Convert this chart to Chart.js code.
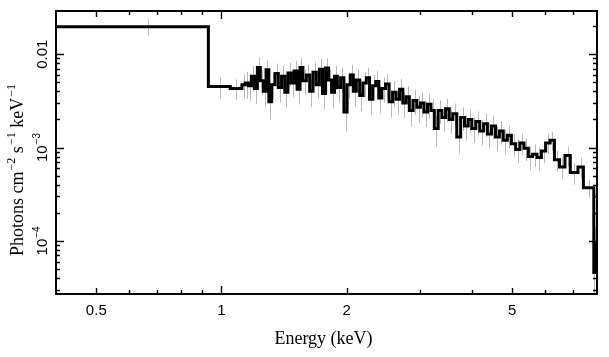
<!DOCTYPE html>
<html><head><meta charset="utf-8">
<script src="https://cdn.jsdelivr.net/npm/chart.js@4"></script>
<style>html,body{margin:0;padding:0;background:#fff}#wrap{width:609px;height:357px;position:relative}</style>
</head><body><div id="wrap"><canvas id="c" width="609" height="357"></canvas></div>
<script>
// ---- data ----
const binEdges = [0.40, 0.93, 1.05, 1.12, 1.14, 1.16, 1.18, 1.20, 1.22, 1.24, 1.26, 1.28, 1.30, 1.32, 1.345, 1.37, 1.395, 1.42, 1.445, 1.47, 1.495, 1.52, 1.545, 1.57, 1.60, 1.63, 1.66, 1.69, 1.72, 1.75, 1.78, 1.81, 1.84, 1.87, 1.90, 1.935, 1.97, 2.005, 2.04, 2.075, 2.11, 2.15, 2.19, 2.23, 2.27, 2.31, 2.35, 2.39, 2.43, 2.48, 2.53, 2.58, 2.63, 2.68, 2.73, 2.78, 2.83, 2.89, 2.95, 3.01, 3.07, 3.13, 3.19, 3.25, 3.32, 3.39, 3.46, 3.53, 3.60, 3.68, 3.76, 3.84, 3.92, 4.00, 4.09, 4.18, 4.27, 4.36, 4.46, 4.56, 4.66, 4.76, 4.87, 4.98, 5.10, 5.22, 5.34, 5.47, 5.60, 5.74, 5.88, 6.02, 6.17, 6.32, 6.50, 6.70, 6.90, 7.20, 7.42, 7.86, 7.89, 7.92, 7.95, 7.98];
const binValues = [0.0197, 0.0045, 0.0043, 0.0047,
  0.0049, 0.0046, 0.0058, 0.0043, 0.0072, 0.0052, 0.0040, 0.0068, 0.0031,
  0.0047, 0.0062, 0.0044, 0.0058, 0.0039, 0.0063, 0.0049, 0.0066, 0.0042,
  0.0072, 0.0052, 0.0060, 0.0040, 0.0064, 0.0047, 0.0069, 0.0038,
  0.0071, 0.0053, 0.0039, 0.0058, 0.0044, 0.0056,
  0.0024, 0.0047, 0.0060, 0.0040, 0.0053, 0.0036, 0.0049, 0.0056, 0.0033, 0.0046, 0.0051, 0.0034,
  0.0043, 0.0048, 0.0031, 0.0039, 0.0033, 0.0042, 0.0030, 0.0035, 0.0025, 0.0032, 0.0027, 0.0030,
  0.0024, 0.0029, 0.0025, 0.0016, 0.0025, 0.0021, 0.0026, 0.0020, 0.0023, 0.0013,
  0.0021, 0.0017, 0.0020, 0.0016, 0.0019, 0.0015, 0.0018, 0.0014, 0.0017, 0.0013, 0.0015, 0.0012, 0.00135,
  0.00110, 0.00095, 0.00112, 0.00098, 0.00080, 0.00085, 0.00078, 0.00092, 0.00112, 0.00120,
  0.00074, 0.00062, 0.00082, 0.00054, 0.00062, 0.00037,
  0.000046, 0.000095, 0.00008, 0.00006];
const binRelErr = [0.2, 0.25, 0.25, 0.3,
  0.32, 0.32, 0.3, 0.32, 0.28, 0.3, 0.33, 0.28, 0.36,
  0.3, 0.28, 0.31, 0.29, 0.32, 0.28, 0.3, 0.28, 0.31,
  0.27, 0.3, 0.29, 0.32, 0.28, 0.3, 0.28, 0.33,
  0.27, 0.29, 0.32, 0.29, 0.31, 0.29,
  0.38, 0.3, 0.28, 0.31, 0.29, 0.32, 0.3, 0.28, 0.32, 0.3, 0.29, 0.32,
  0.3, 0.29, 0.32, 0.3, 0.31, 0.29, 0.31, 0.3, 0.33, 0.3, 0.31, 0.3,
  0.31, 0.3, 0.31, 0.36, 0.29, 0.3, 0.28, 0.3, 0.29, 0.34,
  0.28, 0.3, 0.28, 0.3, 0.28, 0.3, 0.28, 0.3, 0.28, 0.3, 0.28, 0.3, 0.27,
  0.27, 0.28, 0.26, 0.27, 0.28, 0.27, 0.28, 0.26, 0.24, 0.23,
  0.25, 0.26, 0.23, 0.26, 0.24, 0.22,
  0.6, 0.5, 0.5, 0.6];
const xMajorTicks = [0.5, 1, 2, 5];
const xTickLabels = ['0.5', '1', '2', '5'];
const xMinorTicks = [0.6, 0.7, 0.8, 0.9, 3, 4, 6, 7];
const yDecadeTicks = [1e-2, 1e-3, 1e-4];
const yTickBase = ['0.01', '10', '10'];
const yTickExp = ['', '\u22123', '\u22124'];
const yMinorTicks = [3e-5, 4e-5, 5e-5, 6e-5, 7e-5, 8e-5, 9e-5, 2e-4, 3e-4, 4e-4, 5e-4, 6e-4, 7e-4, 8e-4, 9e-4, 2e-3, 3e-3, 4e-3, 5e-3, 6e-3, 7e-3, 8e-3, 9e-3, 2e-2, 3e-2];
const xTitle = 'Energy (keV)';
const yTitleParts = [['Photons cm', '\u22122'], [' s', '\u22121'], [' keV', '\u22121']];

// step points built from the bins
const stepPoints = binValues.map((v, i) => ({x: binEdges[i], y: v}));
stepPoints.push({x: binEdges[binEdges.length - 1], y: binValues[binValues.length - 1]});

const SANS = '"Liberation Sans", Arial, sans-serif';
const SERIF = '"Liberation Serif", "Times New Roman", serif';

const decor = {
  id: 'decor',
  beforeDatasetsDraw(chart) {
    const {ctx, chartArea: a, scales: {x, y}} = chart;
    ctx.save();
    ctx.beginPath(); ctx.rect(a.left, a.top, a.right - a.left, a.bottom - a.top); ctx.clip();
    ctx.strokeStyle = '#b8b8b8'; ctx.lineWidth = 1;
    for (let i = 0; i < binValues.length; i++) {
      const c = (binEdges[i] + binEdges[i + 1]) / 2;
      const v = binValues[i], e = binRelErr[i] * v;
      const px = Math.round(x.getPixelForValue(c)) + 0.5;
      const lo = Math.max(v - e, y.min);
      ctx.beginPath();
      ctx.moveTo(px, y.getPixelForValue(v + e));
      ctx.lineTo(px, y.getPixelForValue(lo));
      ctx.stroke();
    }
    ctx.restore();
  },
  afterDraw(chart) {
    const {ctx, chartArea: a, scales: {x, y}} = chart;
    ctx.save();
    ctx.strokeStyle = '#000'; ctx.lineWidth = 2;
    ctx.strokeRect(a.left, a.top, a.right - a.left, a.bottom - a.top);
    ctx.lineWidth = 1.4;
    const tx = (v, len) => {
      const p = Math.round(x.getPixelForValue(v)) + 0.5;
      ctx.beginPath();
      ctx.moveTo(p, a.bottom); ctx.lineTo(p, a.bottom - len);
      ctx.moveTo(p, a.top); ctx.lineTo(p, a.top + len);
      ctx.stroke();
    };
    xMajorTicks.forEach(v => tx(v, v === 1 ? 8 : 6));
    xMinorTicks.forEach(v => tx(v, 4));
    const ty = (v, len) => {
      if (v < y.min || v > y.max) return;
      const p = Math.round(y.getPixelForValue(v)) + 0.5;
      ctx.beginPath();
      ctx.moveTo(a.left, p); ctx.lineTo(a.left + len, p);
      ctx.moveTo(a.right, p); ctx.lineTo(a.right - len, p);
      ctx.stroke();
    };
    yDecadeTicks.forEach(v => ty(v, 8));
    yMinorTicks.forEach(v => ty(v, 4));

    // x tick labels
    ctx.fillStyle = '#000';
    ctx.font = '15px ' + SANS;
    ctx.textAlign = 'center'; ctx.textBaseline = 'alphabetic';
    xMajorTicks.forEach((v, i) => ctx.fillText(xTickLabels[i], x.getPixelForValue(v), 315));

    // y tick labels (rotated)
    yDecadeTicks.forEach((v, i) => {
      const p = y.getPixelForValue(v);
      ctx.save();
      ctx.translate(47, p); ctx.rotate(-Math.PI / 2);
      ctx.textAlign = 'left';
      ctx.font = '15px ' + SANS;
      const wb = ctx.measureText(yTickBase[i]).width;
      ctx.font = '10px ' + SANS;
      const we = yTickExp[i] ? ctx.measureText(yTickExp[i]).width + 1 : 0;
      const start = -(wb + we) / 2;
      ctx.font = '15px ' + SANS;
      ctx.fillText(yTickBase[i], start, 0);
      if (yTickExp[i]) { ctx.font = '10px ' + SANS; ctx.fillText(yTickExp[i], start + wb + 1, -7); }
      ctx.restore();
    });

    // axis titles
    ctx.font = '18px ' + SERIF;
    ctx.textAlign = 'center';
    ctx.fillText(xTitle, (a.left + a.right) / 2 - 3, 344);

    ctx.save();
    ctx.translate(23, 170); ctx.rotate(-Math.PI / 2);
    ctx.textAlign = 'left';
    let total = 0;
    const widths = yTitleParts.map(([t, s]) => {
      ctx.font = '18px ' + SERIF; const w1 = ctx.measureText(t).width;
      ctx.font = '12px ' + SERIF; const w2 = ctx.measureText(s).width;
      total += w1 + w2 + 1; return [w1, w2];
    });
    let cx = -total / 2;
    yTitleParts.forEach(([t, s], i) => {
      ctx.font = '18px ' + SERIF; ctx.fillText(t, cx, 0); cx += widths[i][0] + 1;
      ctx.font = '12px ' + SERIF; ctx.fillText(s, cx, -8); cx += widths[i][1];
    });
    ctx.restore();
    ctx.restore();
  }
};

new Chart(document.getElementById('c'), {
  type: 'line',
  data: {
    datasets: [{
      data: stepPoints,
      stepped: 'before',
      borderColor: '#000',
      borderWidth: 3,
      borderJoinStyle: 'miter',
      pointRadius: 0,
      fill: false
    }]
  },
  options: {
    responsive: false,
    animation: false,
    devicePixelRatio: 1,
    layout: {padding: {top: 11, right: 12, left: 0, bottom: 0}},
    plugins: {legend: {display: false}, tooltip: {enabled: false}},
    scales: {
      x: {
        type: 'logarithmic', min: 0.4, max: 8,
        grid: {display: false}, border: {display: false},
        ticks: {display: false},
        afterFit(s) { s.height = 63; }
      },
      y: {
        type: 'logarithmic', min: 2.7e-5, max: 0.029,
        grid: {display: false}, border: {display: false},
        ticks: {display: false},
        afterFit(s) { s.width = 56; }
      }
    }
  },
  plugins: [decor]
});
</script>
</body></html>
